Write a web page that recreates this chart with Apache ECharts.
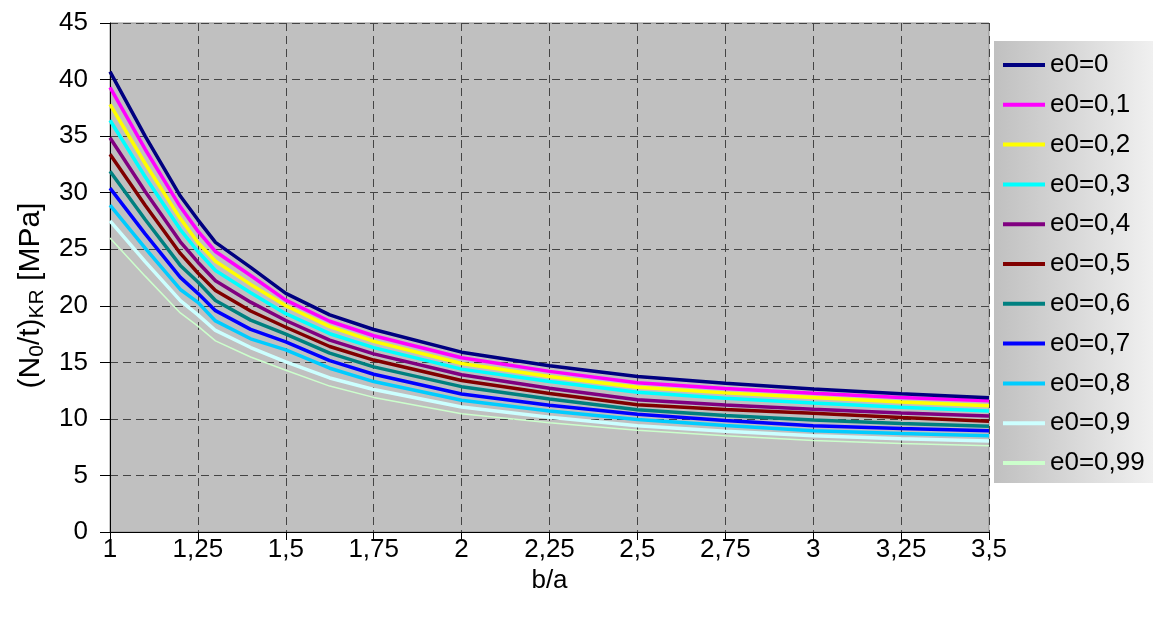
<!DOCTYPE html>
<html>
<head>
<meta charset="utf-8">
<script src="https://cdn.jsdelivr.net/npm/echarts@6/dist/echarts.min.js"></script>
<style>
html,body{margin:0;padding:0;background:#fff;}
#c{width:1153px;height:617px;}
</style>
</head>
<body>
<div id="c"></div>
<script>
// b/a values
var xValues = [1, 1.1, 1.2, 1.25, 1.3, 1.4, 1.5, 1.625, 1.75, 2, 2.25, 2.5, 2.75, 3, 3.25, 3.5];
var seriesNames = ['e0=0','e0=0,1','e0=0,2','e0=0,3','e0=0,4','e0=0,5','e0=0,6','e0=0,7','e0=0,8','e0=0,9','e0=0,99'];
var e0_00 = [40.7, 35.0, 29.7, 27.6, 25.6, 23.4, 21.1, 19.2, 17.9, 15.9, 14.7, 13.75, 13.15, 12.64, 12.22, 11.87];
var e0_01 = [39.3, 33.84, 28.75, 26.6, 24.8, 22.68, 20.5, 18.63, 17.35, 15.4, 14.2, 13.2, 12.68, 12.26, 11.9, 11.6];
var e0_02 = [37.8, 32.58, 27.71, 25.6, 23.94, 21.89, 20.0, 18.15, 16.85, 14.9, 13.75, 12.8, 12.3, 11.9, 11.5, 11.16];
var e0_03 = [36.4, 31.41, 26.74, 24.8, 23.12, 21.15, 19.3, 17.53, 16.3, 14.4, 13.3, 12.35, 11.83, 11.4, 11.02, 10.7];
var e0_04 = [34.85, 30.11, 25.65, 23.85, 22.21, 20.32, 18.7, 16.97, 15.75, 13.9, 12.7, 11.7, 11.23, 10.85, 10.52, 10.25];
var e0_05 = [33.4, 28.89, 24.63, 22.9, 21.36, 19.54, 18.1, 16.4, 15.2, 13.4, 12.25, 11.25, 10.83, 10.5, 10.12, 9.8];
var e0_06 = [31.9, 27.63, 23.57, 22.1, 20.47, 18.73, 17.5, 15.81, 14.6, 12.85, 11.75, 10.8, 10.3, 9.9, 9.6, 9.36];
var e0_07 = [30.4, 26.36, 22.51, 21.1, 19.57, 17.91, 16.8, 15.15, 13.95, 12.2, 11.2, 10.4, 9.85, 9.4, 9.15, 8.95];
var e0_08 = [28.9, 25.09, 21.44, 20.3, 18.66, 17.08, 16.1, 14.48, 13.3, 11.65, 10.7, 9.95, 9.41, 8.96, 8.7, 8.5];
var e0_09 = [27.5, 23.9, 20.45, 19.2, 17.82, 16.31, 15.05, 13.62, 12.6, 11.05, 10.15, 9.4, 8.9, 8.5, 8.25, 8.04];
var e0_099 = [26.0, 22.62, 19.37, 18.2, 16.9, 15.47, 14.3, 12.9, 11.9, 10.45, 9.65, 9.0, 8.5, 8.1, 7.83, 7.62];
var allValues = [e0_00, e0_01, e0_02, e0_03, e0_04, e0_05, e0_06, e0_07, e0_08, e0_09, e0_099];
var colors = ['#000080','#ff00ff','#ffff00','#00ffff','#800080','#800000','#008080','#0000ff','#00ccff','#ccffff','#ccffcc'];
var widths = [3.5,3.5,3.5,3.5,3.5,3.5,3.5,3.5,3.5,3.5,1.5];

var chart = echarts.init(document.getElementById('c'), null, {renderer:'canvas'});
var FONT = '"Liberation Sans", Arial, sans-serif';

var series = seriesNames.map(function(n, i){
  return {
    name: n,
    type: 'line',
    data: xValues.map(function(x, j){ return [x, allValues[i][j]]; }),
    symbol: 'none',
    smooth: false,
    lineStyle: {color: colors[i], width: widths[i]},
    itemStyle: {color: colors[i]},
    emphasis: {disabled: true},
    z: 20 - i
  };
});

var option = {
  backgroundColor: '#ffffff',
  animation: false,
  graphic: [{
    type: 'rect',
    left: 994, top: 41,
    shape: {width: 159, height: 442},
    style: {
      fill: new echarts.graphic.LinearGradient(0, 0, 1, 0, [
        {offset: 0, color: '#c0c0c0'},
        {offset: 1, color: '#f0f0f0'}
      ])
    },
    z: -1
  }],
  grid: {
    left: 110, right: 164, top: 23, bottom: 85,
    show: true, backgroundColor: '#c0c0c0', borderColor: '#909090', borderWidth: 1
  },
  legend: {
    orient: 'vertical',
    left: 1003, top: 52,
    padding: 0,
    icon: 'rect',
    itemWidth: 42, itemHeight: 4,
    itemGap: 13.8,
    selectedMode: false,
    textStyle: {fontFamily: FONT, fontSize: 26, color: '#000', lineHeight: 26, padding: [0,0,0,0]},
    data: seriesNames
  },
  xAxis: {
    type: 'value', min: 1, max: 3.5, interval: 0.25,
    name: 'b/a', nameLocation: 'middle', nameGap: 35,
    nameTextStyle: {fontFamily: FONT, fontSize: 26, color: '#000'},
    axisLine: {show: true, onZero: false, lineStyle: {color: '#000', width: 1}},
    axisTick: {show: true, length: 8, lineStyle: {color: '#000'}},
    axisLabel: {fontFamily: FONT, fontSize: 26, color: '#000', margin: 5,
      formatter: function(v){ return String(v).replace('.', ','); }},
    splitLine: {show: true, lineStyle: {color: '#444', type: [8, 5], width: 1}}
  },
  yAxis: {
    type: 'value', min: 0, max: 45, interval: 5,
    name: '(N{s|0}/t){s|KR} [MPa]', nameLocation: 'middle', nameGap: 62,
    nameTextStyle: {fontFamily: FONT, fontSize: 30, color: '#000', padding: [0, 36, 0, 0],
      rich: {s: {fontFamily: FONT, fontSize: 21, color: '#000', verticalAlign: 'bottom', lineHeight: 34}}},
    axisLine: {show: true, lineStyle: {color: '#000', width: 1}},
    axisTick: {show: true, length: 10, lineStyle: {color: '#000'}},
    axisLabel: {fontFamily: FONT, fontSize: 26, color: '#000', margin: 22},
    splitLine: {show: true, lineStyle: {color: '#444', type: [8, 5], width: 1}}
  },
  series: series
};
chart.setOption(option);
</script>
</body>
</html>
